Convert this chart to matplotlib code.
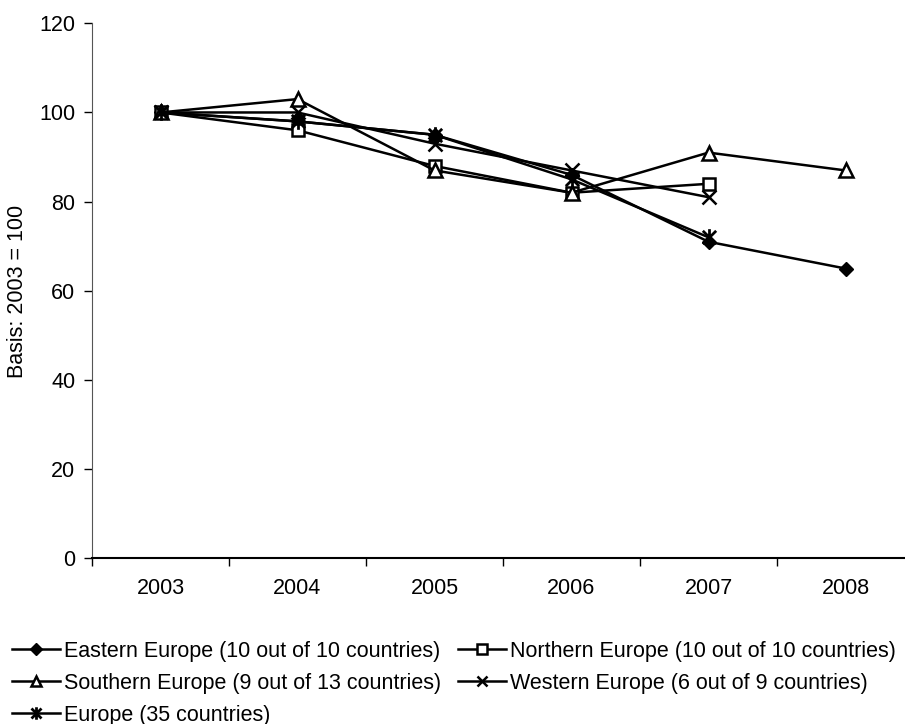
import numpy as np
import matplotlib
matplotlib.use("Agg")
import matplotlib.pyplot as plt
from matplotlib.path import Path

plt.rcParams['font.family'] = ['Liberation Sans', 'DejaVu Sans']

years = ['2003', '2004', '2005', '2006', '2007', '2008']
eastern = [100, 98, 95, 86, 71, 65]
northern = [100, 96, 88, 82, 84, np.nan]
southern = [100, 103, 87, 82, 91, 87]
western = [100, 100, 93, 87, 81, np.nan]
europe = [100, 98, 95, 85, 72, np.nan]

labels = ['Eastern Europe (10 out of 10 countries)',
          'Northern Europe (10 out of 10 countries)',
          'Southern Europe (9 out of 13 countries)',
          'Western Europe (6 out of 9 countries)',
          'Europe (35 countries)']

star = Path([(0, -1), (0, 1), (-0.8, -0.8), (0.8, 0.8), (-0.8, 0.8), (0.8, -0.8)],
            [Path.MOVETO, Path.LINETO, Path.MOVETO, Path.LINETO, Path.MOVETO, Path.LINETO])

FS = 15.5
fig = plt.figure(figsize=(9.05, 7.24), dpi=100)
ax = fig.add_axes([92/905, 1-558.3/724, 822/905, 535/724])

x = np.arange(len(years))
lw = 1.8
ax.plot(x, eastern, color='black', lw=lw, marker='D', ms=7.5, mfc='black', mec='black', label=labels[0])
ax.plot(x, northern, color='black', lw=lw, marker='s', ms=9, mfc='white', mec='black', mew=1.8, label=labels[1])
ax.plot(x, southern, color='black', lw=lw, marker='^', ms=10, mfc='white', mec='black', mew=1.8, label=labels[2])
ax.plot(x, western, color='black', lw=lw, marker='x', ms=10, mec='black', mew=1.8, label=labels[3])
ax.plot(x, europe, color='black', lw=lw, marker=star, ms=12, mec='black', mew=2.0, label=labels[4])

ax.set_xlim(-0.5, len(years) - 0.5)
ax.set_ylim(0, 120)
ax.set_yticks(np.arange(0, 121, 20))
ax.set_xticks(x)
ax.set_xticklabels(years)
ax.set_xticks(np.arange(-0.5, len(years), 1.0), minor=True)
ax.tick_params(axis='x', which='major', length=0, pad=14, labelsize=FS)
ax.tick_params(axis='x', which='minor', length=6, width=1, direction='out')
ax.tick_params(axis='y', length=6, width=1, direction='out', labelsize=FS, pad=6)
for s in ['top', 'right']:
    ax.spines[s].set_visible(False)
ax.spines['left'].set_color('#555555')
ax.spines['bottom'].set_linewidth(1.5)
fig.text(18/905, 1-291/724, 'Basis: 2003 = 100', rotation=90, ha='center', va='center', fontsize=FS)

handles, labs = ax.get_legend_handles_labels()
order = [0, 2, 4, 1, 3]
fig.legend([handles[i] for i in order], [labs[i] for i in order],
           loc='upper left', bbox_to_anchor=(12/905, 1-641/724), ncol=2,
           frameon=False, fontsize=FS, handlelength=2.25, handletextpad=0.15,
           columnspacing=0.8, labelspacing=0.5, borderpad=0, borderaxespad=0,
           markerscale=0.75)

fig.savefig('out.png', dpi=100)
